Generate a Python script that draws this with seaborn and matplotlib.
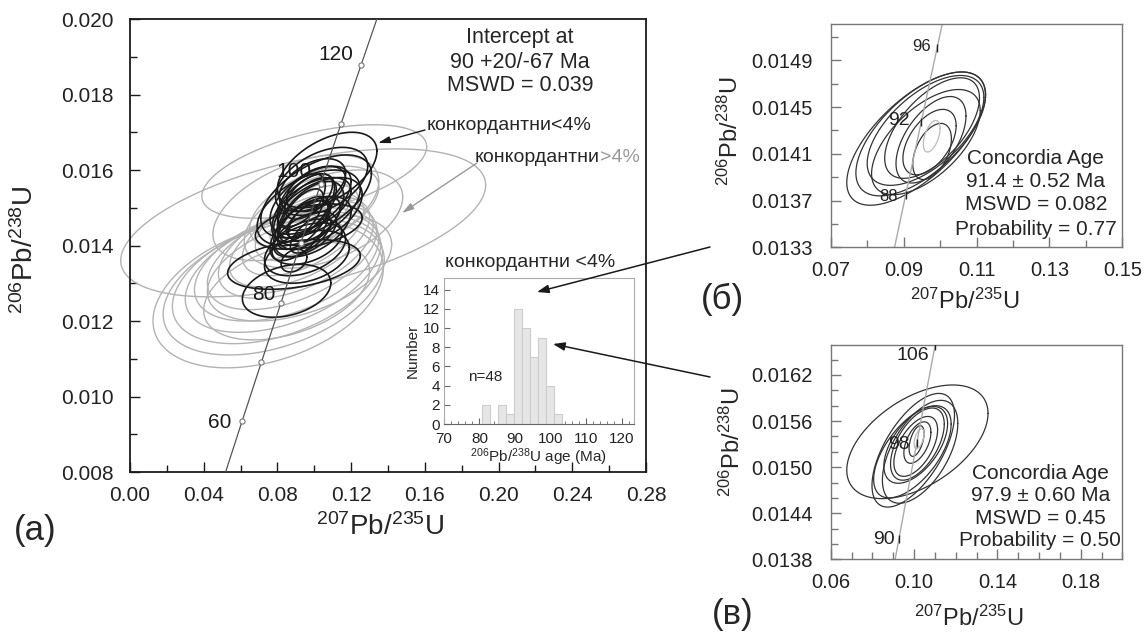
import numpy as np
import pandas as pd
import matplotlib
matplotlib.use("Agg")
from matplotlib import pyplot as plt
import seaborn as sns

# concordia points (age in Ma, 207Pb/235U, 206Pb/238U)
conc_age = [50, 60, 70, 80, 88, 90, 92, 96, 98, 100, 106, 110, 120, 130]
conc_x = [0.050475, 0.060872, 0.071371, 0.081975, 0.090533, 0.092683, 0.094838,
          0.099159, 0.101326, 0.103498, 0.110038, 0.114419, 0.125449, 0.136588]
conc_y = [0.007786, 0.009351, 0.010918, 0.012487, 0.013745, 0.014059, 0.014374,
          0.015003, 0.015318, 0.015633, 0.016579, 0.017210, 0.018789, 0.020371]

# main diagram: discordant >4% (grey) ellipses: centre x, centre y, half-width x, half-height y, rho
grey_cx = [0.094, 0.100, 0.105, 0.075, 0.078, 0.080, 0.083, 0.085, 0.088, 0.090,
           0.092, 0.094, 0.096, 0.098, 0.100, 0.085, 0.092, 0.090]
grey_cy = [0.0146, 0.01596, 0.0147, 0.0127, 0.0129, 0.0131, 0.0133, 0.0135, 0.0137, 0.0139,
           0.0141, 0.0143, 0.0146, 0.0148, 0.0150, 0.0128, 0.0134, 0.0150]
grey_sx = [0.099, 0.061, 0.043, 0.0625, 0.060, 0.057, 0.053, 0.050, 0.046, 0.042,
           0.038, 0.033, 0.028, 0.022, 0.035, 0.045, 0.050, 0.045]
grey_sy = [0.00196, 0.00124, 0.0013, 0.00194, 0.0018, 0.0017, 0.0016, 0.0015, 0.0014, 0.0013,
           0.0012, 0.0011, 0.0010, 0.0009, 0.0011, 0.0013, 0.0014, 0.0014]
grey_rho = [0.51, 0.53, 0.45, 0.36, 0.40, 0.42, 0.45, 0.45, 0.50, 0.50,
            0.55, 0.55, 0.60, 0.60, 0.50, 0.40, 0.45, 0.50]

# concordant <4% (black) ellipses
blk_cx = [0.107, 0.101, 0.085, 0.089, 0.097, 0.089,
          0.096, 0.098, 0.094, 0.100, 0.097, 0.095, 0.099, 0.093, 0.101, 0.096, 0.098, 0.094,
          0.097, 0.102, 0.092, 0.099, 0.095, 0.100, 0.093, 0.098, 0.104, 0.096, 0.097]
blk_cy = [0.0160, 0.0153, 0.0128, 0.0135, 0.0145, 0.0136,
          0.0150, 0.0148, 0.0146, 0.0151, 0.0153, 0.0143, 0.0145, 0.0148, 0.0155, 0.0141, 0.0152, 0.0150,
          0.0147, 0.0149, 0.0144, 0.0156, 0.0139, 0.0147, 0.0152, 0.0143, 0.0157, 0.0137, 0.0150]
blk_sx = [0.027, 0.030, 0.024, 0.036, 0.029, 0.007,
          0.016, 0.018, 0.014, 0.020, 0.013, 0.017, 0.021, 0.012, 0.016, 0.019, 0.022, 0.017,
          0.012, 0.024, 0.016, 0.018, 0.022, 0.014, 0.013, 0.011, 0.025, 0.023, 0.028]
blk_sy = [0.0010, 0.0011, 0.0007, 0.00066, 0.0006, 0.0003,
          0.0008, 0.0009, 0.0007, 0.0007, 0.0006, 0.0006, 0.0008, 0.0007, 0.0006, 0.0006, 0.0009, 0.0009,
          0.0005, 0.0009, 0.0008, 0.0007, 0.0007, 0.0006, 0.0007, 0.0005, 0.0009, 0.0007, 0.0010]
blk_rho = [0.50, 0.55, 0.30, 0.35, 0.40, 0.30,
           0.60, 0.55, 0.65, 0.50, 0.55, 0.55, 0.50, 0.65, 0.45, 0.40, 0.55, 0.60,
           0.65, 0.50, 0.60, 0.45, 0.40, 0.55, 0.55, 0.65, 0.45, 0.35, 0.50]

# histogram of concordant <4% ages
bin_edges = [80.6, 82.85, 85.1, 87.35, 89.6, 91.85, 94.1, 96.35, 98.6, 100.85, 103.1]
bin_counts = [2, 0, 2, 1, 12, 10, 7, 9, 4, 1]

# panel (б) ellipses
b_cx = [0.0934, 0.0947, 0.0960, 0.0961, 0.0978, 0.0975, 0.0971, 0.0978]
b_cy = [0.01423, 0.01427, 0.01430, 0.01420, 0.01432, 0.01422, 0.01420, 0.01412]
b_sx = [0.0190, 0.0178, 0.0160, 0.0149, 0.0130, 0.0096, 0.0073, 0.0053]
b_sy = [0.00057, 0.00053, 0.00047, 0.00045, 0.00043, 0.00037, 0.00028, 0.00024]
b_rho = [0.66, 0.63, 0.60, 0.60, 0.60, 0.55, 0.50, 0.45]
b_age_ell = (0.0977, 0.01425, 0.0023, 0.000135, 0.5)

# panel (в) ellipses
v_cx = [0.1016, 0.0996, 0.0992, 0.1008, 0.1016, 0.1008, 0.1016, 0.1012, 0.1029]
v_cy = [0.01533, 0.01522, 0.01520, 0.01529, 0.01530, 0.01527, 0.01532, 0.01534, 0.01520]
v_sx = [0.0339, 0.0198, 0.0186, 0.0153, 0.0129, 0.0105, 0.0065, 0.0036, 0.0181]
v_sy = [0.00074, 0.00074, 0.00060, 0.00050, 0.00047, 0.00039, 0.00027, 0.00020, 0.00067]
v_rho = [0.50, 0.62, 0.60, 0.55, 0.55, 0.55, 0.50, 0.50, 0.55]
v_age_ell = (0.1024, 0.01537, 0.0024, 0.00013, 0.5)

sns.set_style("ticks")
plt.rcParams['font.family'] = ['Liberation Sans', 'DejaVu Sans']
plt.rcParams['mathtext.fontset'] = 'custom'
plt.rcParams['mathtext.rm'] = 'Liberation Sans'
plt.rcParams['mathtext.it'] = 'Liberation Sans:italic'
plt.rcParams['mathtext.bf'] = 'Liberation Sans:bold'

conc = pd.DataFrame({"age": conc_age, "x": conc_x, "y": conc_y})
lab_207 = r'$^{207}$Pb/$^{235}$U'
lab_206 = r'$^{206}$Pb/$^{238}$U'


def ellipse(cx, cy, sx, sy, rho, n=240):
    t = np.linspace(0, 2 * np.pi, n)
    x = cx + sx * np.cos(t)
    y = cy + sy * (rho * np.cos(t) + np.sqrt(1 - rho ** 2) * np.sin(t))
    return x, y


def style_axes(ax, spine_col, lw, size, xpad, ypad):
    for s in ax.spines.values():
        s.set_visible(True)
        s.set_color(spine_col)
        s.set_linewidth(lw)
    ax.tick_params(which='both', direction='in', colors=spine_col, labelcolor='#222222',
                   labelsize=size, top=False, right=False)
    ax.tick_params(axis='x', which='both', pad=xpad)
    ax.tick_params(axis='y', which='both', pad=ypad)
    ax.tick_params(which='major', length=7, width=1)
    ax.tick_params(which='minor', length=5, width=1)


fig = plt.figure(figsize=(11.46, 6.34), dpi=100)

# ---------- (a) main Wetherill diagram ----------
ax = fig.add_axes([0.1134, 0.2555, 0.4503, 0.7145])
for i in range(len(grey_cx)):
    ex, ey = ellipse(grey_cx[i], grey_cy[i], grey_sx[i], grey_sy[i], grey_rho[i])
    ax.plot(ex, ey, color='#b3b3b3', lw=1.0, clip_on=False, zorder=2)
for i in range(len(blk_cx)):
    ex, ey = ellipse(blk_cx[i], blk_cy[i], blk_sx[i], blk_sy[i], blk_rho[i])
    ax.plot(ex, ey, color='#1a1a1a', lw=1.2, zorder=3)
sns.lineplot(data=conc, x="x", y="y", ax=ax, sort=False, color='#555555', lw=0.9, zorder=4)
marks = conc[conc.age.isin([60, 70, 80, 90, 100, 110, 120])]
ax.scatter(marks.x, marks.y, s=14, facecolor='white', edgecolor='#777777', lw=0.8, zorder=5)
ax.set_xlim(0, 0.28)
ax.set_ylim(0.008, 0.020)
ax.set_xticks(np.arange(0, 0.281, 0.04))
ax.set_xticks(np.arange(0, 0.281, 0.02), minor=True)
ax.set_yticks(np.arange(0.008, 0.0201, 0.002))
ax.set_yticks(np.arange(0.008, 0.0201, 0.001), minor=True)
ax.xaxis.set_major_formatter(matplotlib.ticker.FormatStrFormatter('%.2f'))
ax.yaxis.set_major_formatter(matplotlib.ticker.FormatStrFormatter('%.3f'))
ax.set_xlabel('')
ax.set_ylabel('')
style_axes(ax, '#1a1a1a', 1.3, 15, 10, 12)

for t, x, y in [('120', 0.1118, 0.01905), ('100', 0.0890, 0.01595),
                ('80', 0.0727, 0.01269), ('60', 0.0488, 0.00932)]:
    ax.text(x, y, t, fontsize=15, ha='center', va='center', color='#1a1a1a', zorder=6)

for t, y in [('Intercept at', 0.960), ('90 +20/-67 Ma', 0.905), ('MSWD = 0.039', 0.854)]:
    ax.text(0.756, y, t, transform=ax.transAxes, fontsize=15.5, ha='center', va='center')

ax.text(0.5756, 0.766, 'конкордантни<4%', transform=ax.transAxes, fontsize=14,
        ha='left', va='center')
ax.annotate('', xy=(0.4806, 0.7263), xytext=(0.5717, 0.755), xycoords='axes fraction',
            arrowprops=dict(arrowstyle='-|>,head_length=0.7,head_width=0.2', color='#1a1a1a',
                            lw=1.0, shrinkA=0, shrinkB=0))
ax.text(0.9109, 0.6954, 'конкордантни', transform=ax.transAxes, fontsize=14,
        ha='right', va='center')
ax.text(0.9109, 0.6954, '>4%', transform=ax.transAxes, fontsize=14,
        ha='left', va='center', color='#999999')
ax.annotate('', xy=(0.5271, 0.5717), xytext=(0.6725, 0.6821), xycoords='axes fraction',
            arrowprops=dict(arrowstyle='-|>,head_length=0.7,head_width=0.2', color='#999999',
                            lw=1.0, shrinkA=0, shrinkB=0))
ax.text(0.6105, 0.4636, 'конкордантни <4%', transform=ax.transAxes, fontsize=14,
        ha='left', va='center')

# ---------- inset histogram ----------
axh = fig.add_axes([0.3874, 0.3312, 0.1658, 0.2303])
axh.set_facecolor('white')
bin_mid = [(bin_edges[i] + bin_edges[i + 1]) / 2 for i in range(len(bin_counts))]
sns.histplot(x=bin_mid, weights=bin_counts, bins=bin_edges, ax=axh, color='#e6e6e6',
             edgecolor='#cccccc', linewidth=0.8, alpha=1)
axh.set_xlim(70, 123.5)
axh.set_ylim(0, 15.2)
axh.set_xticks(np.arange(70, 121, 10))
axh.set_xticks(np.arange(70, 124, 2), minor=True)
axh.set_yticks(np.arange(0, 15, 2))
for s in axh.spines.values():
    s.set_visible(True)
    s.set_color('#aaaaaa')
    s.set_linewidth(0.8)
axh.spines['bottom'].set_color('#666666')
axh.tick_params(which='both', direction='in', colors='#666666', labelcolor='#222222',
                labelsize=11)
axh.tick_params(which='major', length=4)
axh.tick_params(which='minor', length=2.5)
axh.tick_params(axis='x', pad=6)
axh.tick_params(axis='y', pad=3)
axh.set_ylabel('Number', fontsize=11, labelpad=2)
axh.set_xlabel(r'$^{206}$Pb/$^{238}$U age (Ma)', fontsize=11, labelpad=0)
axh.text(76.8, 4.9, 'n=48', fontsize=11, ha='left', va='center')

# ---------- (б) ----------
axb = fig.add_axes([0.7249, 0.6099, 0.2545, 0.3522])
for i in range(len(b_cx)):
    ex, ey = ellipse(b_cx[i], b_cy[i], b_sx[i], b_sy[i], b_rho[i])
    axb.plot(ex, ey, color='#333333', lw=0.9)
ex, ey = ellipse(*b_age_ell)
axb.plot(ex, ey, color='#bbbbbb', lw=0.9)
sns.lineplot(data=conc, x="x", y="y", ax=axb, sort=False, color='#aaaaaa', lw=1.0)
bm = conc[conc.age.isin([88, 92, 96])]
axb.scatter(bm.x, bm.y, marker='|', s=30, color='#222222', lw=1.0, zorder=5)
for t, x, y, fs in [('96', 0.09495, 0.015014, 12), ('92', 0.08883, 0.014388, 14),
                    ('88', 0.08581, 0.013738, 12)]:
    axb.text(x, y, t, fontsize=fs, ha='center', va='center', color='#222222')
axb.set_xlim(0.07, 0.15)
axb.set_ylim(0.0133, 0.01521)
axb.set_xticks([0.07, 0.09, 0.11, 0.13, 0.15])
axb.set_xticks(np.arange(0.07, 0.151, 0.01), minor=True)
axb.set_yticks([0.0133, 0.0137, 0.0141, 0.0145, 0.0149])
axb.set_yticks(np.arange(0.0133, 0.01521, 0.0002), minor=True)
axb.xaxis.set_major_formatter(matplotlib.ticker.FormatStrFormatter('%.2f'))
axb.yaxis.set_major_formatter(matplotlib.ticker.FormatStrFormatter('%.4f'))
axb.set_xlabel('')
axb.set_ylabel('')
style_axes(axb, '#777777', 1.0, 14.5, 10, 13)
for t, y in [('Concordia Age', 0.399), ('91.4 ± 0.52 Ma', 0.294),
             ('MSWD = 0.082', 0.190), ('Probability = 0.77', 0.081)]:
    axb.text(0.703, y, t, transform=axb.transAxes, fontsize=15, ha='center', va='center')

# ---------- (в) ----------
axv = fig.add_axes([0.7249, 0.1178, 0.2545, 0.3380])
for i in range(len(v_cx)):
    ex, ey = ellipse(v_cx[i], v_cy[i], v_sx[i], v_sy[i], v_rho[i])
    axv.plot(ex, ey, color='#333333', lw=0.9)
ex, ey = ellipse(*v_age_ell)
axv.plot(ex, ey, color='#bbbbbb', lw=0.9)
sns.lineplot(data=conc, x="x", y="y", ax=axv, sort=False, color='#aaaaaa', lw=1.0)
vm = conc[conc.age.isin([90, 98, 106])]
axv.scatter(vm.x, vm.y, marker='|', s=30, color='#222222', lw=1.0, zorder=5)
for t, x, y in [('106', 0.0992, 0.01646), ('98', 0.0927, 0.01529), ('90', 0.0855, 0.01406)]:
    axv.text(x, y, t, fontsize=14, ha='center', va='center', color='#222222')
axv.set_xlim(0.06, 0.20)
axv.set_ylim(0.0138, 0.01659)
axv.set_xticks([0.06, 0.10, 0.14, 0.18])
axv.set_xticks(np.arange(0.06, 0.201, 0.01), minor=True)
axv.set_yticks([0.0138, 0.0144, 0.0150, 0.0156, 0.0162])
axv.set_yticks(np.arange(0.0138, 0.01659, 0.0002), minor=True)
axv.xaxis.set_major_formatter(matplotlib.ticker.FormatStrFormatter('%.2f'))
axv.yaxis.set_major_formatter(matplotlib.ticker.FormatStrFormatter('%.4f'))
axv.set_xlabel('')
axv.set_ylabel('')
style_axes(axv, '#777777', 1.0, 14.5, 10, 13)
for t, y in [('Concordia Age', 0.401), ('97.9 ± 0.60 Ma', 0.296),
             ('MSWD = 0.45', 0.190), ('Probability = 0.50', 0.086)]:
    axv.text(0.718, y, t, transform=axv.transAxes, fontsize=15, ha='center', va='center')

# ---------- axis titles and panel letters ----------
fig.text(0.0218, 0.606, lab_206, rotation=90, fontsize=20, ha='center', va='center')
fig.text(0.3316, 0.1688, lab_207, fontsize=20, ha='center', va='center')
fig.text(0.637, 0.793, lab_206, rotation=90, fontsize=17, ha='center', va='center')
fig.text(0.842, 0.524, lab_207, fontsize=17, ha='center', va='center')
fig.text(0.6387, 0.303, lab_206, rotation=90, fontsize=17, ha='center', va='center')
fig.text(0.8455, 0.025, lab_207, fontsize=17, ha='center', va='center')
fig.text(0.0305, 0.164, '(a)', fontsize=25, ha='center', va='center')
fig.text(0.630, 0.527, '(б)', fontsize=25, ha='center', va='center')
fig.text(0.6396, 0.030, '(в)', fontsize=25, ha='center', va='center')

# arrows from the histogram to panels (б) and (в)
for head, tail in [((537, 634 - 292), (710, 634 - 247)), ((553, 634 - 344), (710, 634 - 377))]:
    fig.add_artist(matplotlib.patches.FancyArrowPatch(
        tail, head, transform=None, arrowstyle='-|>,head_length=7,head_width=2.5',
        color='#1a1a1a', lw=1.1, shrinkA=0, shrinkB=0))

fig.savefig('out.png', dpi=100)
